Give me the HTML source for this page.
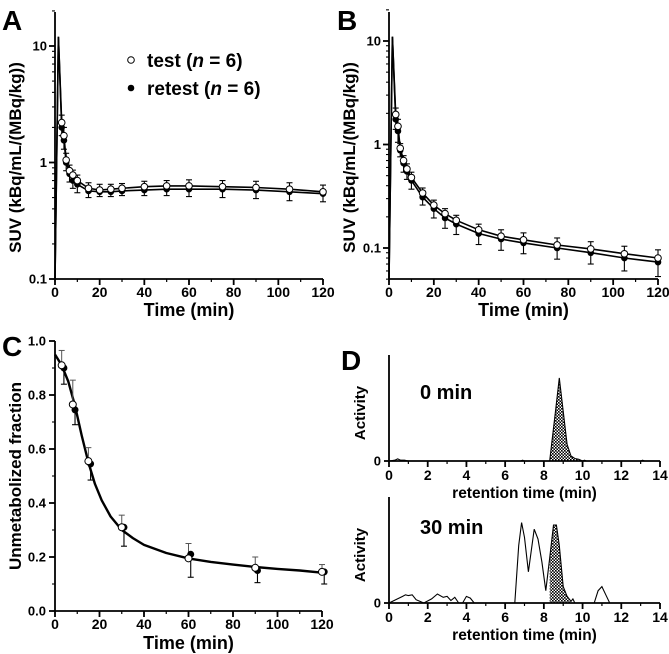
<!DOCTYPE html>
<html><head><meta charset="utf-8">
<style>
html,body{margin:0;padding:0;background:#fff;}
svg{display:block;font-family:"Liberation Sans",Arial,sans-serif;font-weight:bold;}
</style></head>
<body>
<svg id="fig" width="669" height="654" viewBox="0 0 669 654" xmlns="http://www.w3.org/2000/svg"></svg>
<script>
// ---------- DATA ----------
const timesAB = [3,4,5,6.5,8,10,15,20,25,30,40,50,60,75,90,105,120];
const aTest   = [2.2,1.7,1.05,0.85,0.78,0.7,0.6,0.58,0.59,0.6,0.62,0.63,0.63,0.62,0.61,0.59,0.56];
const aRetest = [2.0,1.55,1.0,0.8,0.7,0.65,0.57,0.56,0.56,0.57,0.58,0.59,0.59,0.59,0.58,0.56,0.54];
const aTestErr   = [0.35,0.3,0.15,0.1,0.08,0.08,0.07,0.07,0.06,0.06,0.07,0.07,0.08,0.08,0.08,0.08,0.08];
const aRetestErr = [0.3,0.25,0.15,0.12,0.1,0.1,0.07,0.05,0.05,0.05,0.06,0.07,0.08,0.09,0.09,0.09,0.08];
const bTest   = [1.95,1.5,0.92,0.7,0.58,0.48,0.34,0.26,0.215,0.185,0.15,0.13,0.12,0.107,0.098,0.088,0.08];
const bRetest = [1.75,1.35,0.88,0.66,0.55,0.45,0.31,0.24,0.195,0.17,0.138,0.122,0.112,0.1,0.09,0.08,0.073];
const bTestErr   = [0.3,0.25,0.1,0.08,0.07,0.06,0.04,0.03,0.025,0.022,0.02,0.02,0.02,0.018,0.017,0.016,0.016];
const bRetestErr = [0.35,0.3,0.12,0.12,0.09,0.08,0.05,0.045,0.04,0.035,0.03,0.027,0.024,0.022,0.02,0.02,0.02];
const cTimesTest   = [3,8,15,30,60,90,120];
const cTimesRetest = [4,9,16,31,61,91,121];
const cTest   = [0.91,0.765,0.555,0.31,0.195,0.16,0.145];
const cRetest = [0.9,0.745,0.545,0.31,0.21,0.15,0.145];
const cTestErr   = [0.055,0.09,0.05,0.045,0.055,0.04,0.027];
const cRetestErr = [0.06,0.055,0.06,0.07,0.085,0.045,0.045];
const cFitT = [0,3,6,9,12,15,18,21,25,30,35,40,50,60,70,80,90,100,110,120];
const cFitV = [0.95,0.91,0.85,0.76,0.65,0.55,0.47,0.41,0.35,0.3,0.27,0.245,0.215,0.195,0.182,0.172,0.163,0.156,0.15,0.142];
const d0T = [0,0.3,0.45,0.6,0.8,1,6.8,6.9,7,8.3,8.4,8.6,8.8,9.0,9.2,9.4,9.6,9.8,10,10.1,10.2,13,13.1,13.2,14];
const d0V = [0,0.01,0.025,0.01,0.01,0,0,0.01,0,0,0.2,0.6,1.0,0.6,0.2,0.06,0.03,0.02,0,0.01,0,0,0.01,0,0];
const d30T = [0,0.7,0.85,1,1.2,1.4,1.6,1.8,2.2,2.5,2.8,3,3.2,3.4,3.6,3.8,4,4.2,4.4,6.5,6.7,6.85,7.0,7.2,7.5,7.7,7.9,8.1,8.3,8.5,8.65,8.8,9.0,9.2,9.4,9.5,9.6,10.6,10.8,11,11.2,11.4,14];
const d30V = [0,0.08,0.1,0.09,0.1,0.04,0.02,0,0.05,0.11,0.07,0.08,0.03,0.07,0,0,0.08,0.06,0,0,0.7,0.98,0.8,0.38,0.9,0.78,0.5,0.15,0.55,0.95,0.95,0.7,0.2,0.08,0.02,0.05,0,0,0.15,0.2,0.1,0,0];
const xTicksAB = [0,20,40,60,80,100,120];
const yTicksA = [0.1,1,10];
const yTicksB = [0.1,1,10];
const yTicksC = [0,0.2,0.4,0.6,0.8,1.0];
const xTicksD = [0,2,4,6,8,10,12,14];

// ---------- HELPERS ----------
const svg = document.getElementById('fig');
const NS = 'http://www.w3.org/2000/svg';
function mk(tag, attrs, parent){
  const e = document.createElementNS(NS, tag);
  for (const k in attrs) e.setAttribute(k, attrs[k]);
  (parent||svg).appendChild(e);
  return e;
}
function txt(x,y,s,size,anchor,parent,rot){
  const t = mk('text',{x:x,y:y,'font-size':size,'text-anchor':anchor||'middle',fill:'#000'},parent);
  if(rot) t.setAttribute('transform','rotate(-90 '+x+' '+y+')');
  t.textContent = s;
  return t;
}
const defs = mk('defs',{});
const pat = mk('pattern',{id:'hatch',width:3,height:3,patternUnits:'userSpaceOnUse'},defs);
mk('rect',{width:3,height:3,fill:'#fff'},pat);
mk('rect',{width:1.6,height:1.6,fill:'#000'},pat);
mk('rect',{x:1.5,y:1.5,width:1.6,height:1.6,fill:'#000'},pat);

function linX(d0,d1,p0,p1){return v=>p0+(v-d0)/(d1-d0)*(p1-p0);}
function logY(d0,d1,p0,p1){return v=>p0+(Math.log10(v)-Math.log10(d0))/(Math.log10(d1)-Math.log10(d0))*(p1-p0);}

function xAxis(g,sx,yPix,ticks,minorStep,xmin,xmax,labelY,title,titleY,tickSize,titleSize){
  mk('line',{x1:sx(xmin),y1:yPix,x2:sx(xmax),y2:yPix,stroke:'#000','stroke-width':1.8},g);
  for(let v=xmin; v<=xmax+1e-9; v+=minorStep){
    mk('line',{x1:sx(v),y1:yPix,x2:sx(v),y2:yPix+3,stroke:'#000','stroke-width':1.2},g);
  }
  ticks.forEach(v=>{
    mk('line',{x1:sx(v),y1:yPix,x2:sx(v),y2:yPix+6,stroke:'#000','stroke-width':1.8},g);
    const t=txt(sx(v),labelY,String(v),tickSize,'middle',g);
    
    
  });
  const tt=txt((sx(xmin)+sx(xmax))/2,titleY,title,titleSize,'middle',g);
  
  
}
function path(pts,attrs,g){
  return mk('path',Object.assign({d:'M'+pts.map(p=>p[0].toFixed(1)+','+p[1].toFixed(1)).join('L'),fill:'none'},attrs),g);
}

// ---------- PANEL A / B ----------
function panelAB(letter,lx,sx,sy,topY,botY,yMin,yMax,test,retest,tErr,rErr,peak,ticks,gname){
  const g = mk('g',{});
  
  
  const L = txt(lx,30,letter,28,'start',g);  
  const x0 = sx(0);
  mk('line',{x1:x0,y1:topY,x2:x0,y2:botY,stroke:'#000','stroke-width':1.8},g);
  for(let dec=-2; dec<=1; dec++){
    for(let m=1;m<10;m++){
      const v=m*Math.pow(10,dec);
      if(v<yMin||v>yMax) continue;
      const yy=sy(v);
      mk('line',{x1:x0-(m===1?6:3),y1:yy,x2:x0,y2:yy,stroke:'#000','stroke-width':m===1?1.8:1.1},g);
    }
  }
  ticks.forEach(v=>{
    if(v<yMin) return;
    const t=txt(x0-8,sy(v)+4.5,String(v),13,'end',g);
    
    
  });
  const yt=txt(x0-34,(topY+botY)/2+12,'SUV (kBq/mL/(MBq/kg))',17,'middle',g,true);
  
  
  xAxis(g,sx,botY,xTicksAB,10,0,120,botY+18,'Time (min)',botY+37,14,18);
  [[retest,'retest'],[test,'test']].forEach(([arr,nm])=>{
    const pts=[[sx(0),botY],[sx(1.5),sy(peak)]].concat(timesAB.map((t,i)=>[sx(t),sy(arr[i])]));
    const p=path(pts,{stroke:'#000','stroke-width':1.6},g);
    
    
  });
  timesAB.forEach((t,i)=>{
    const x=sx(t);
    mk('line',{x1:x,y1:sy(test[i]),x2:x,y2:sy(test[i]+tErr[i]),stroke:'#000','stroke-width':1.1},g);
    mk('line',{x1:x-3,y1:sy(test[i]+tErr[i]),x2:x+3,y2:sy(test[i]+tErr[i]),stroke:'#000','stroke-width':1.1},g);
    mk('line',{x1:x,y1:sy(retest[i]),x2:x,y2:sy(retest[i]-rErr[i]),stroke:'#000','stroke-width':1.1},g);
    mk('line',{x1:x-3,y1:sy(retest[i]-rErr[i]),x2:x+3,y2:sy(retest[i]-rErr[i]),stroke:'#000','stroke-width':1.1},g);
  });
  timesAB.forEach((t,i)=>{
    const r=mk('circle',{cx:sx(t),cy:sy(retest[i]),r:3.3,fill:'#000'},g);
    
    
    const c=mk('circle',{cx:sx(t),cy:sy(test[i]),r:3.3,fill:'#fff',stroke:'#000','stroke-width':1},g);
    
    
  });
  return g;
}
const sxA = linX(0,120,55,323);
const syA = logY(0.1,10,279,46);
const gA = panelAB('A',2,sxA,syA,12,279,0.1,20,aTest,aRetest,aTestErr,aRetestErr,12,yTicksA,'panel-a');
const lg = mk('g',{},gA);


mk('circle',{cx:131,cy:60,r:3.3,fill:'#fff',stroke:'#000','stroke-width':1},lg);
mk('circle',{cx:131,cy:88,r:3.3,fill:'#000'},lg);
const l1=mk('text',{x:147,y:67,'font-size':19},lg); l1.innerHTML='test (<tspan font-style="italic">n</tspan> = 6)';
 
const l2=mk('text',{x:147,y:95,'font-size':19},lg); l2.innerHTML='retest (<tspan font-style="italic">n</tspan> = 6)';
 

const sxB = linX(0,120,389,658);
const syB = logY(0.1,10,248,41);
panelAB('B',337,sxB,syB,12,279,0.05,20,bTest,bRetest,bTestErr,bRetestErr,11,yTicksB,'panel-b');

// ---------- PANEL C ----------
(function(){
  const g=mk('g',{});
  
  
  const sx=linX(0,120,55,322), sy=linX(0,1,611,341);
  const L=txt(2,356,'C',28,'start',g);  
  mk('line',{x1:55,y1:341,x2:55,y2:611,stroke:'#000','stroke-width':1.8},g);
  for(let v=0;v<=1.0001;v+=0.1){mk('line',{x1:52,y1:sy(v),x2:55,y2:sy(v),stroke:'#000','stroke-width':1.1},g);}
  yTicksC.forEach(v=>{
    mk('line',{x1:49,y1:sy(v),x2:55,y2:sy(v),stroke:'#000','stroke-width':1.8},g);
    const t=txt(46,sy(v)+4.5,v.toFixed(1),13,'end',g);
     
  });
  const yt=txt(21,476,'Unmetabolized fraction',17,'middle',g,true);
   
  xAxis(g,sx,611,xTicksAB,10,0,120,629,'Time (min)',649,14,18);
  const f=path(cFitT.map((t,i)=>[sx(t),sy(cFitV[i])]),{stroke:'#000','stroke-width':2.4,'stroke-linejoin':'round'},g);
   
  cTimesTest.forEach((t,i)=>{
    const x=sx(t), yt2=sy(cTest[i]+cTestErr[i]);
    mk('line',{x1:x,y1:sy(cTest[i]),x2:x,y2:yt2,stroke:'#555','stroke-width':1},g);
    mk('line',{x1:x-3,y1:yt2,x2:x+3,y2:yt2,stroke:'#555','stroke-width':1},g);
  });
  cTimesRetest.forEach((t,i)=>{
    const x=sx(t), yb=sy(cRetest[i]-cRetestErr[i]);
    mk('line',{x1:x,y1:sy(cRetest[i]),x2:x,y2:yb,stroke:'#000','stroke-width':1.1},g);
    mk('line',{x1:x-3,y1:yb,x2:x+3,y2:yb,stroke:'#000','stroke-width':1.1},g);
  });
  cTimesRetest.forEach((t,i)=>{
    const c=mk('circle',{cx:sx(t),cy:sy(cRetest[i]),r:3.5,fill:'#000'},g);
     
  });
  cTimesTest.forEach((t,i)=>{
    const c=mk('circle',{cx:sx(t),cy:sy(cTest[i]),r:3.5,fill:'#fff',stroke:'#000','stroke-width':1},g);
     
  });
})();

// ---------- PANEL D ----------
function chrom(topY,baseY,peakY,T,V,label,labelY,shadeFrom,shadeTo,gname){
  const g=mk('g',{});
  
  
  const sx=linX(0,14,389,660), sy=linX(0,1,baseY,peakY);
  const sh=[];
  T.forEach((t,i)=>{ if(t>=shadeFrom&&t<=shadeTo) sh.push([sx(t),sy(V[i])]); });
  sh.unshift([sh[0][0],baseY]); sh.push([sh[sh.length-1][0],baseY]);
  const a=mk('path',{d:'M'+sh.map(p=>p[0].toFixed(1)+','+p[1].toFixed(1)).join('L')+'Z',fill:'url(#hatch)',stroke:'none'},g);
   
  const p=path(T.map((t,i)=>[sx(t),sy(V[i])]),{stroke:'#000','stroke-width':1.1},g);
   
  mk('line',{x1:389,y1:topY,x2:389,y2:baseY,stroke:'#000','stroke-width':1.8},g);
  mk('line',{x1:384,y1:baseY,x2:389,y2:baseY,stroke:'#000','stroke-width':1.8},g);
  const z=txt(381,baseY+4.5,'0',13,'end',g);  
  const yt=txt(365,(topY+baseY)/2+5,'Activity',15,'middle',g,true);
   
  xAxis(g,sx,baseY,xTicksD,1,0,14,baseY+19,'retention time (min)',baseY+37,14,15.5);
  const l=txt(420,labelY,label,20,'start',g);  
}
const Dl=txt(341,370,'D',28,'start');  
chrom(355,461,378,d0T,d0V,'0 min',399,8.3,10.2,'chromatogram-0min');
chrom(497,603,521,d30T,d30V,'30 min',534,8.3,9.4,'chromatogram-30min');
</script>
</body></html>
